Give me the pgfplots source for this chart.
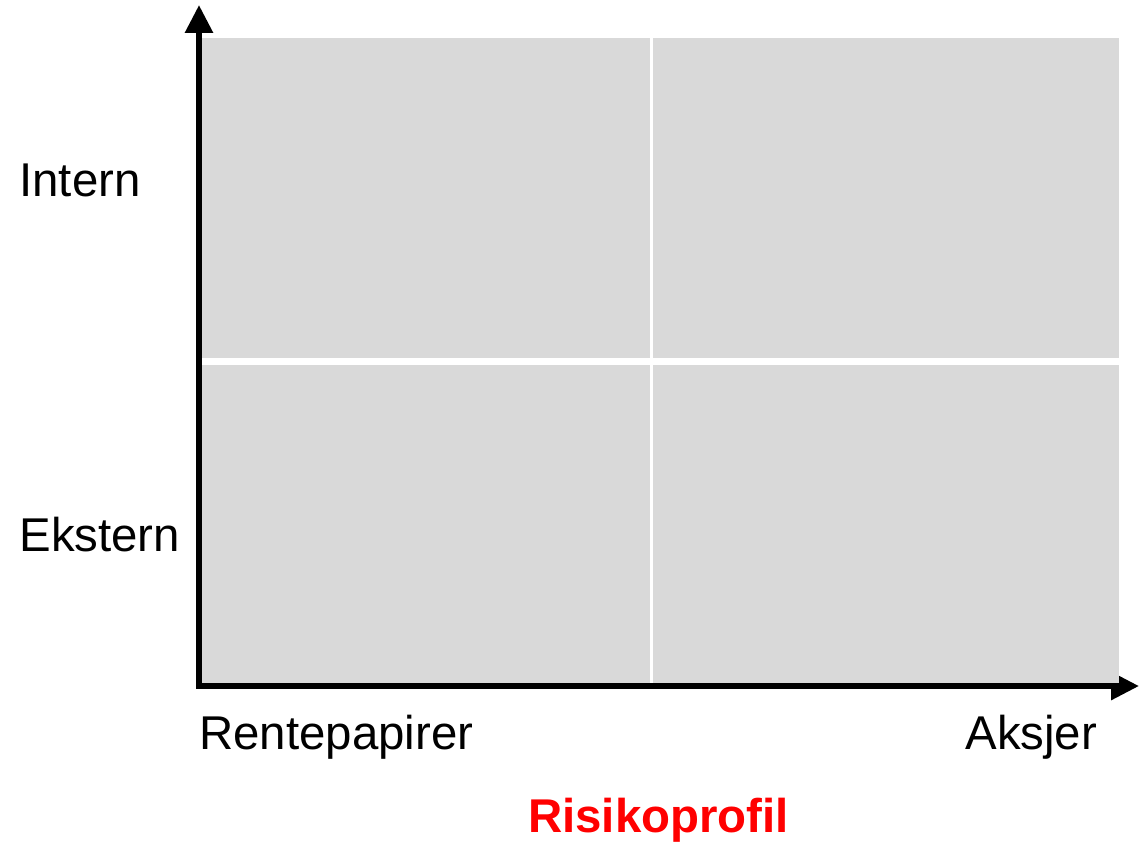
\documentclass[border=0pt]{standalone}
\usepackage{fontspec}
\setmainfont{Liberation Sans}
\usepackage{pgfplots}
\pgfplotsset{compat=1.18}
\usetikzlibrary{arrows.meta}
\definecolor{quad}{HTML}{D9D9D9}
\definecolor{risk}{HTML}{FF0000}
\begin{document}
\begin{tikzpicture}
\begin{axis}[
  scale only axis,
  width=470bp, height=340.5bp,
  xmin=0, xmax=940, ymin=0, ymax=681,
  axis lines=left,
  axis line style={line width=3bp, line cap=rect, -{Triangle[length=14bp,width=13.5bp]}},
  ticks=none,
  clip=false,
]
% quadrants (pixel-like units, origin at the axis corner)
\addplot[draw=none, fill=quad] coordinates {(3,3) (451,3) (451,321) (3,321)} -- cycle;
\addplot[draw=none, fill=quad] coordinates {(454,3) (920,3) (920,321) (454,321)} -- cycle;
\addplot[draw=none, fill=quad] coordinates {(3,328) (451,328) (451,648) (3,648)} -- cycle;
\addplot[draw=none, fill=quad] coordinates {(454,328) (920,328) (920,648) (454,648)} -- cycle;
% labels
\node[anchor=base west, inner sep=0pt, font=\fontsize{23.7bp}{28bp}\selectfont] at (axis cs:-180,489.3) {Intern};
\node[anchor=base west, inner sep=0pt, font=\fontsize{23.7bp}{28bp}\selectfont] at (axis cs:-180,134.3) {Ekstern};
\node[anchor=base west, inner sep=0pt, font=\fontsize{23.7bp}{28bp}\selectfont] at (axis cs:0,-63.3) {Rentepapirer};
\node[anchor=base east, inner sep=0pt, font=\fontsize{23.7bp}{28bp}\selectfont] at (axis cs:898.5,-63.3) {Aksjer};
\node[anchor=base, inner sep=0pt, text=risk, font=\fontsize{23.7bp}{28bp}\selectfont\bfseries] at (axis cs:459.5,-146.7) {Risikoprofil};
% page extent
\coordinate (bbA) at (axis cs:-199,-156);
\coordinate (bbB) at (axis cs:940,686);
\end{axis}
\pgfresetboundingbox
\path[use as bounding box] (bbA) rectangle (bbB);
\end{tikzpicture}
\end{document}
